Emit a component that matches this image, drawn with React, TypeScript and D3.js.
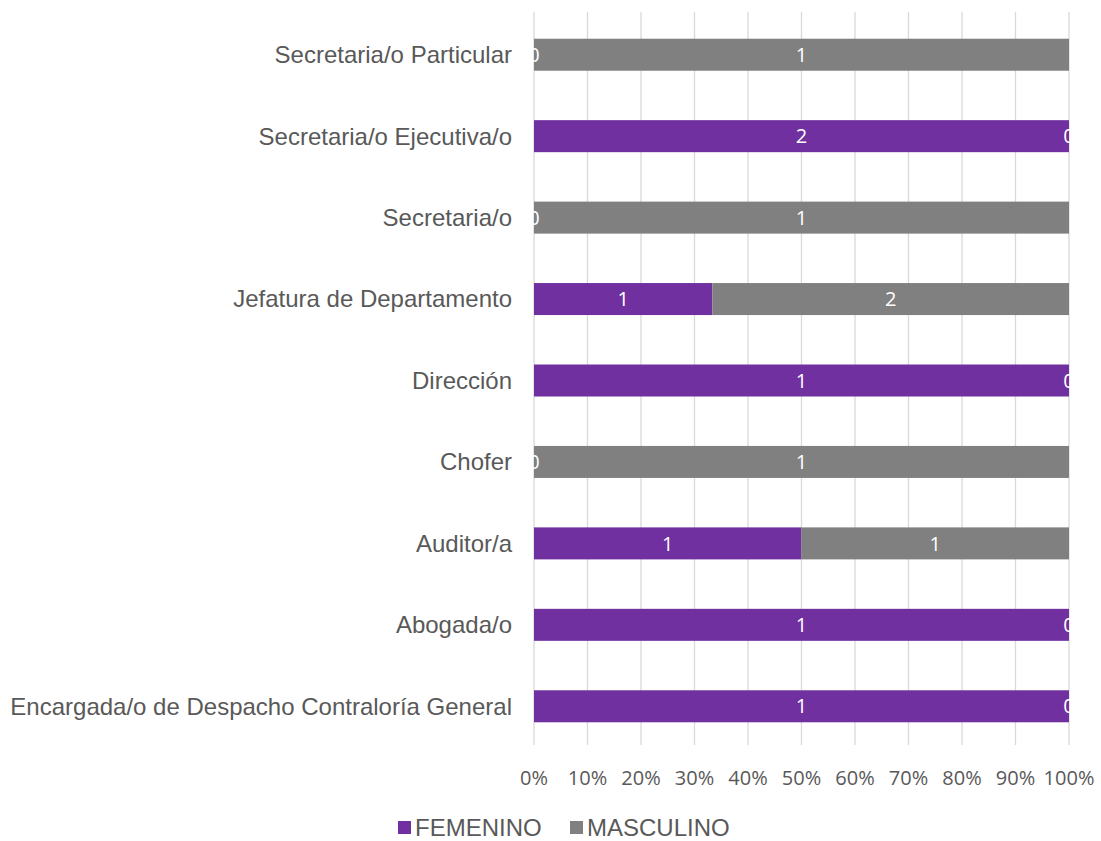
import { useEffect, useRef } from 'react';
import * as d3 from 'd3';

const categories = [
  'Secretaria/o Particular',
  'Secretaria/o Ejecutiva/o',
  'Secretaria/o',
  'Jefatura de Departamento',
  'Dirección',
  'Chofer',
  'Auditor/a',
  'Abogada/o',
  'Encargada/o de Despacho Contraloría General',
];
const femenino = [0, 2, 0, 1, 1, 0, 1, 1, 1];
const masculino = [1, 0, 1, 2, 0, 1, 1, 0, 0];
const seriesNames = ['FEMENINO', 'MASCULINO'];
const seriesColors = ['#7030A0', '#808080'];
const tickValues = [0, 0.1, 0.2, 0.3, 0.4, 0.5, 0.6, 0.7, 0.8, 0.9, 1];

export default function App() {
  const svgRef = useRef<SVGSVGElement>(null);

  useEffect(() => {
    if (!svgRef.current) return;
    const svg = d3.select(svgRef.current);
    svg.selectAll('*').remove();

    const x = d3.scaleLinear().domain([0, 1]).range([534, 1069]);
    const y = d3.scaleBand().domain(categories).range([14, 747]).paddingInner(0.607).paddingOuter(0.3035);

    // gridlines
    svg.append('g')
      .selectAll('line')
      .data(tickValues)
      .enter()
      .append('line')
      .attr('x1', d => x(d))
      .attr('x2', d => x(d))
      .attr('y1', 12)
      .attr('y2', 745)
      .attr('stroke', '#d9d9d9')
      .attr('stroke-width', 1.3);

    // tick labels
    svg.append('g')
      .selectAll('text')
      .data(tickValues)
      .enter()
      .append('text')
      .attr('x', d => x(d))
      .attr('y', 785)
      .attr('text-anchor', 'middle')
      .style('font-family', '"Open Sans", sans-serif')
      .style('font-size', '20px')
      .attr('fill', '#595959')
      .text(d => d3.format('.0%')(d));

    // category labels
    svg.append('g')
      .selectAll('text')
      .data(categories)
      .enter()
      .append('text')
      .attr('x', 512)
      .attr('y', d => (y(d) as number) + y.bandwidth() / 2)
      .attr('dy', '0.35em')
      .attr('text-anchor', 'end')
      .style('font-family', '"Liberation Sans", Arial, sans-serif')
      .style('font-size', '24px')
      .attr('fill', '#595959')
      .text(d => d);

    const rows = categories.map((c, i) => {
      const total = femenino[i] + masculino[i];
      return { c, f: femenino[i], m: masculino[i], fp: femenino[i] / total };
    });

    const segs: { c: string; start: number; end: number; value: number; color: string }[] = [];
    rows.forEach(r => {
      segs.push({ c: r.c, start: 0, end: r.fp, value: r.f, color: seriesColors[0] });
      segs.push({ c: r.c, start: r.fp, end: 1, value: r.m, color: seriesColors[1] });
    });

    svg.append('g')
      .selectAll('rect')
      .data(segs)
      .enter()
      .append('rect')
      .attr('x', d => x(d.start))
      .attr('width', d => x(d.end) - x(d.start))
      .attr('y', d => y(d.c) as number)
      .attr('height', y.bandwidth())
      .attr('fill', d => d.color);

    svg.append('g')
      .selectAll('text')
      .data(segs)
      .enter()
      .append('text')
      .attr('x', d => (x(d.start) + x(d.end)) / 2)
      .attr('y', d => (y(d.c) as number) + y.bandwidth() / 2)
      .attr('dy', '0.36em')
      .attr('text-anchor', 'middle')
      .style('font-family', '"Open Sans", sans-serif')
      .style('font-size', '20px')
      .attr('fill', '#ffffff')
      .text(d => d.value);

    // legend
    const legendX = [398, 570];
    const legend = svg.append('g');
    seriesNames.forEach((name, i) => {
      legend.append('rect')
        .attr('x', legendX[i])
        .attr('y', 821)
        .attr('width', 13)
        .attr('height', 13)
        .attr('fill', seriesColors[i]);
      legend.append('text')
        .attr('x', legendX[i] + 17)
        .attr('y', 836)
        .style('font-family', '"Liberation Sans", Arial, sans-serif')
        .style('font-size', '24px')
        .attr('fill', '#595959')
        .text(name);
    });
  }, []);

  return (
    <div style={{ position: 'absolute', left: 0, top: 0 }}>
      <svg ref={svgRef} width={1101} height={841} style={{ display: 'block', background: '#fff' }} />
    </div>
  );
}
